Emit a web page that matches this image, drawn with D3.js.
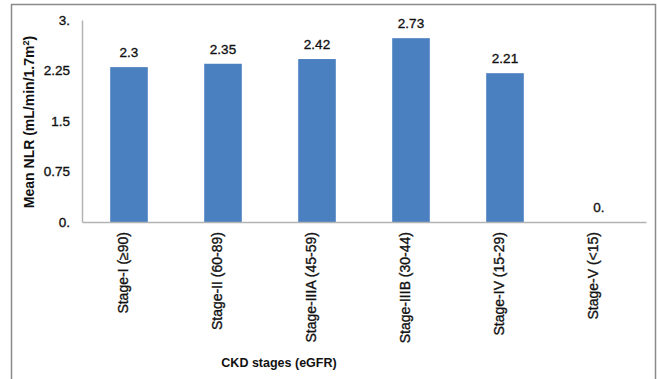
<!DOCTYPE html>
<html>
<head>
<meta charset="utf-8">
<script src="https://cdn.jsdelivr.net/npm/d3@7"></script>
<style>
  html, body { margin: 0; padding: 0; background: #fff; }
  svg { display: block; font-family: "Liberation Sans", Arial, Helvetica, sans-serif; }
  .heavy { stroke: #111; stroke-width: 0.35px; }
</style>
</head>
<body>
<div id="chart"></div>
<script>
// CKD stages vs mean NLR
const stages = ["Stage-I (≥90)", "Stage-II (60-89)", "Stage-IIIA (45-59)", "Stage-IIIB (30-44)", "Stage-IV (15-29)", "Stage-V (<15)"];
const meanNLR = [2.3, 2.35, 2.42, 2.73, 2.21, 0];
const yTicks = [0, 0.75, 1.5, 2.25, 3];

const W = 657, H = 379;
const plot = { left: 82, right: 646, top: 20, bottom: 222 };

const svg = d3.select("#chart").append("svg")
  .attr("width", W).attr("height", H);

// outer frame (open at the bottom like the source)
svg.append("path")
  .attr("d", `M11.5,${H} V4.5 H655.5 V${H}`)
  .attr("fill", "none").attr("stroke", "#8a8a8a").attr("stroke-width", 1.5);

const x = d3.scaleBand().domain(stages).range([plot.left, plot.right]).paddingInner(0.6).paddingOuter(0.3);
const y = d3.scaleLinear().domain([0, 3]).range([plot.bottom, plot.top]);

const fmt = d => Number.isInteger(d) ? d + "." : String(d);

// y axis
const yAxis = svg.append("g").attr("transform", `translate(${plot.left},0)`)
  .call(d3.axisLeft(y).tickValues(yTicks).tickFormat(fmt).tickSize(0).tickPadding(12));
yAxis.select(".domain").attr("stroke", "#b3b3b3").attr("stroke-width", 1.5);
yAxis.selectAll("text").attr("font-size", 13.5).attr("fill", "#111").attr("class", "heavy")
  .attr("font-family", "Liberation Sans, Arial, sans-serif");

// bars
svg.selectAll(".bar").data(meanNLR).join("rect")
  .attr("class", "bar")
  .attr("x", (d, i) => x(stages[i]))
  .attr("y", d => y(d))
  .attr("width", x.bandwidth())
  .attr("height", d => y(0) - y(d))
  .attr("fill", "#4a7fc0");

// x axis
const xAxis = svg.append("g").attr("transform", `translate(0,${plot.bottom})`)
  .call(d3.axisBottom(x).tickSize(0).tickFormat(""));
xAxis.select(".domain").attr("stroke", "#b3b3b3").attr("stroke-width", 1.5);

// value labels
svg.selectAll(".val").data(meanNLR).join("text")
  .attr("class", "val heavy")
  .attr("x", (d, i) => x(stages[i]) + x.bandwidth() / 2)
  .attr("y", d => y(d) - 10)
  .attr("text-anchor", "middle")
  .attr("font-size", 13.5).attr("fill", "#111")
  .text(fmt);

// category labels, rotated
svg.selectAll(".cat").data(stages).join("text")
  .attr("class", "cat heavy")
  .attr("transform", d => `translate(${x(d) + x.bandwidth() / 2 - 6},${plot.bottom + 10}) rotate(-90)`)
  .attr("text-anchor", "end")
  .attr("dy", "0.35em")
  .attr("font-size", 14).attr("fill", "#111")
  .text(d => d);

// axis titles
svg.append("text")
  .attr("transform", `translate(34,${(plot.top + plot.bottom) / 2 + 1}) rotate(-90)`)
  .attr("text-anchor", "middle")
  .attr("font-size", 14).attr("font-weight", "bold").attr("fill", "#111")
  .html('Mean NLR (mL/min/1.7m<tspan baseline-shift="super" font-size="9">2</tspan>)');

svg.append("text")
  .attr("x", 279).attr("y", 367)
  .attr("text-anchor", "middle")
  .attr("font-size", 12.5).attr("font-weight", "bold").attr("fill", "#111")
  .text("CKD stages (eGFR)");
</script>
</body>
</html>
